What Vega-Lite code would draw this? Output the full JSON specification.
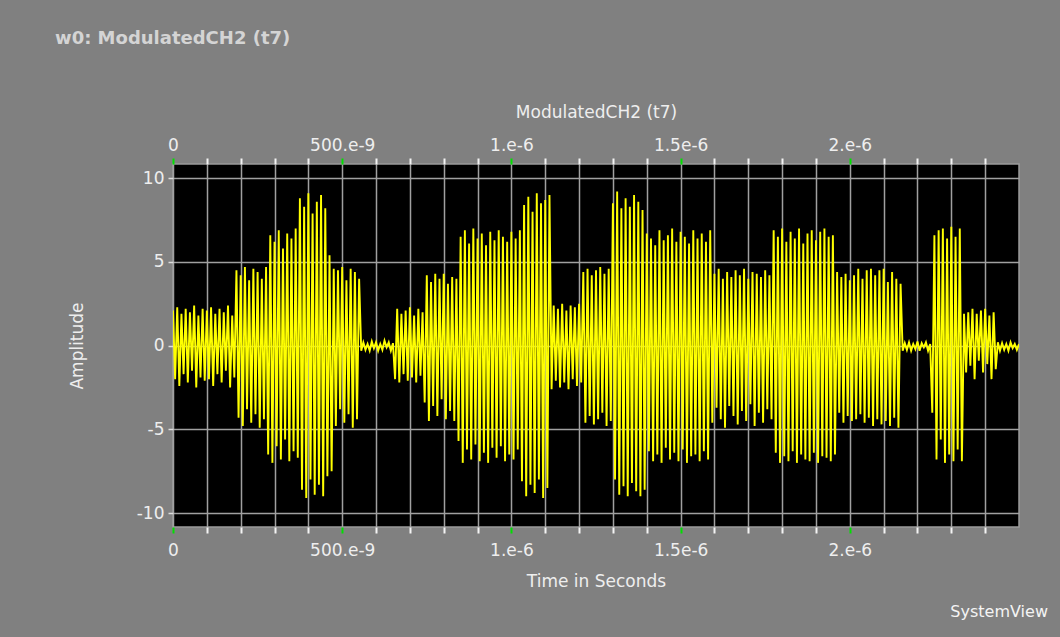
{
"$schema": "https://vega.github.io/schema/vega-lite/v6.json",
"width": 846, "height": 363,
"autosize": {"type": "none"},
"padding": {"left": 173, "top": 164, "right": 41, "bottom": 110},
"background": "#808080",
"title": {"text": "w0: ModulatedCH2 (t7)", "anchor": "start", "frame": "group", "dx": -118, "offset": 55, "font": "DejaVu Sans", "fontSize": 18, "fontWeight": "bold", "color": "#d4d4d4"},
"config": {
  "view": {"fill": "#000000", "stroke": "#9a9a9a", "strokeWidth": 1.5},
  "axis": {"labelFont": "DejaVu Sans", "labelFontSize": 17, "labelColor": "#eeeeee", "titleFont": "DejaVu Sans", "titleFontSize": 17, "titleFontWeight": "normal", "titleColor": "#eeeeee", "domain": false}
},
"data": {"values": [
{"t":0,"v":2.1},{"t":6.25,"v":-2.0},{"t":12.5,"v":2.3},{"t":18.75,"v":-2.4},{"t":25,"v":1.9},{"t":31.25,"v":-1.7},{"t":37.5,"v":2.2},{"t":43.75,"v":-2.2},
{"t":50,"v":2.0},{"t":56.25,"v":-1.5},{"t":62.5,"v":2.4},{"t":68.75,"v":-2.5},{"t":75,"v":1.8},{"t":81.25,"v":-1.9},{"t":87.5,"v":2.2},{"t":93.75,"v":-2.1},
{"t":100,"v":2.1},{"t":106.25,"v":-2.0},{"t":112.5,"v":2.3},{"t":118.75,"v":-2.4},{"t":125,"v":1.9},{"t":131.25,"v":-1.7},{"t":137.5,"v":2.2},{"t":143.75,"v":-2.2},
{"t":150,"v":2.0},{"t":156.25,"v":-1.5},{"t":162.5,"v":2.4},{"t":168.75,"v":-2.5},{"t":175,"v":1.8},{"t":181.25,"v":-1.9},
{"t":187.5,"v":4.5},{"t":193.75,"v":-4.3},{"t":200,"v":4.2},{"t":206.25,"v":-4.8},{"t":212.5,"v":4.7},{"t":218.75,"v":-3.8},{"t":225,"v":3.9},{"t":231.25,"v":-4.6},
{"t":237.5,"v":4.6},{"t":243.75,"v":-4.1},{"t":250,"v":4.4},{"t":256.25,"v":-4.9},{"t":262.5,"v":4.0},{"t":268.75,"v":-4.4},{"t":275,"v":4.7},
{"t":281.25,"v":-6.5},{"t":287.5,"v":6.6},{"t":293.75,"v":-7.0},{"t":300,"v":6.2},{"t":306.25,"v":-6.0},{"t":312.5,"v":6.9},{"t":318.75,"v":-6.8},{"t":325,"v":5.8},
{"t":331.25,"v":-5.6},{"t":337.5,"v":6.7},{"t":343.75,"v":-6.9},{"t":350,"v":6.4},{"t":356.25,"v":-6.3},{"t":362.5,"v":7.0},{"t":368.75,"v":-6.7},
{"t":375,"v":8.8},{"t":381.25,"v":-8.6},{"t":387.5,"v":8.3},{"t":393.75,"v":-9.1},{"t":400,"v":9.1},{"t":406.25,"v":-8.0},{"t":412.5,"v":7.9},{"t":418.75,"v":-8.9},
{"t":425,"v":8.6},{"t":431.25,"v":-8.3},{"t":437.5,"v":9.0},{"t":443.75,"v":-9.0},{"t":450,"v":8.2},{"t":456.25,"v":-7.8},
{"t":462.5,"v":5.4},{"t":468.75,"v":-7.5},{"t":475,"v":4.6},{"t":481.25,"v":-4.8},{"t":487.5,"v":4.5},{"t":493.75,"v":-3.8},{"t":500,"v":4.7},{"t":506.25,"v":-4.6},
{"t":512.5,"v":3.9},{"t":518.75,"v":-4.1},{"t":525,"v":4.6},{"t":531.25,"v":-4.9},{"t":537.5,"v":4.4},{"t":543.75,"v":-4.4},{"t":550,"v":4.0},
{"t":556.25,"v":-0.3},{"t":562.5,"v":0.2},{"t":568.75,"v":-0.25},{"t":575,"v":0.1},{"t":581.25,"v":-0.3},{"t":587.5,"v":0.25},{"t":593.75,"v":-0.15},{"t":600,"v":0.2},
{"t":606.25,"v":-0.3},{"t":612.5,"v":0.1},{"t":618.75,"v":-0.25},{"t":625,"v":0.3},{"t":631.25,"v":-0.1},{"t":637.5,"v":0.2},{"t":643.75,"v":-0.3},{"t":650,"v":0.15},
{"t":656.25,"v":-2.0},{"t":662.5,"v":2.2},{"t":668.75,"v":-2.2},{"t":675,"v":1.9},{"t":681.25,"v":-1.7},{"t":687.5,"v":2.1},{"t":693.75,"v":-2.1},{"t":700,"v":2.3},
{"t":706.25,"v":-1.9},{"t":712.5,"v":1.8},{"t":718.75,"v":-2.2},{"t":725,"v":2.2},{"t":731.25,"v":-1.8},{"t":737.5,"v":2.0},
{"t":743.75,"v":-3.4},{"t":750,"v":4.2},{"t":756.25,"v":-4.5},{"t":762.5,"v":3.8},{"t":768.75,"v":-3.6},{"t":775,"v":4.3},{"t":781.25,"v":-4.2},{"t":787.5,"v":4.0},
{"t":793.75,"v":-3.2},{"t":800,"v":4.3},{"t":806.25,"v":-4.4},{"t":812.5,"v":3.7},{"t":818.75,"v":-3.9},{"t":825,"v":4.1},{"t":831.25,"v":-4.5},{"t":837.5,"v":4.0},
{"t":843.75,"v":-5.7},{"t":850,"v":6.5},{"t":856.25,"v":-7.0},{"t":862.5,"v":6.9},{"t":868.75,"v":-6.2},{"t":875,"v":6.1},{"t":881.25,"v":-6.8},{"t":887.5,"v":7.0},
{"t":893.75,"v":-5.9},{"t":900,"v":6.4},{"t":906.25,"v":-6.9},{"t":912.5,"v":6.7},{"t":918.75,"v":-6.4},{"t":925,"v":6.0},{"t":931.25,"v":-7.0},{"t":937.5,"v":6.8},
{"t":943.75,"v":-6.1},{"t":950,"v":6.3},{"t":956.25,"v":-6.7},{"t":962.5,"v":6.9},{"t":968.75,"v":-6.0},{"t":975,"v":6.5},{"t":981.25,"v":-6.9},{"t":987.5,"v":6.2},
{"t":993.75,"v":-6.5},{"t":1000,"v":6.8},{"t":1006.25,"v":-6.8},{"t":1012.5,"v":6.4},{"t":1018.75,"v":-6.2},{"t":1025,"v":6.9},
{"t":1031.25,"v":-8.1},{"t":1037.5,"v":8.4},{"t":1043.75,"v":-9.0},{"t":1050,"v":8.9},{"t":1056.25,"v":-8.3},{"t":1062.5,"v":8.0},{"t":1068.75,"v":-8.8},{"t":1075,"v":9.1},
{"t":1081.25,"v":-8.0},{"t":1087.5,"v":8.5},{"t":1093.75,"v":-9.1},{"t":1100,"v":8.7},{"t":1106.25,"v":-8.5},{"t":1112.5,"v":9.0},
{"t":1118.75,"v":-2.6},{"t":1125,"v":2.4},{"t":1131.25,"v":-2.1},{"t":1137.5,"v":2.2},{"t":1143.75,"v":-2.5},{"t":1150,"v":2.5},{"t":1156.25,"v":-2.2},{"t":1162.5,"v":2.1},
{"t":1168.75,"v":-2.6},{"t":1175,"v":2.4},{"t":1181.25,"v":-2.0},{"t":1187.5,"v":2.3},{"t":1193.75,"v":-2.4},{"t":1200,"v":2.5},{"t":1206.25,"v":-2.2},
{"t":1212.5,"v":4.4},{"t":1218.75,"v":-4.6},{"t":1225,"v":4.6},{"t":1231.25,"v":-4.2},{"t":1237.5,"v":4.2},{"t":1243.75,"v":-4.7},{"t":1250,"v":4.5},{"t":1256.25,"v":-4.4},
{"t":1262.5,"v":4.7},{"t":1268.75,"v":-4.0},{"t":1275,"v":4.3},{"t":1281.25,"v":-4.8},{"t":1287.5,"v":4.6},{"t":1293.75,"v":-4.5},
{"t":1300,"v":8.5},{"t":1306.25,"v":-8.0},{"t":1312.5,"v":9.2},{"t":1318.75,"v":-8.9},{"t":1325,"v":8.2},{"t":1331.25,"v":-8.4},{"t":1337.5,"v":8.8},{"t":1343.75,"v":-9.0},
{"t":1350,"v":8.3},{"t":1356.25,"v":-8.2},{"t":1362.5,"v":9.0},{"t":1368.75,"v":-8.7},{"t":1375,"v":8.6},{"t":1381.25,"v":-9.0},{"t":1387.5,"v":8.1},{"t":1393.75,"v":-8.6},
{"t":1400,"v":6.7},{"t":1406.25,"v":-6.3},{"t":1412.5,"v":6.4},{"t":1418.75,"v":-6.9},{"t":1425,"v":6.0},{"t":1431.25,"v":-6.5},{"t":1437.5,"v":6.9},{"t":1443.75,"v":-7.0},
{"t":1450,"v":6.3},{"t":1456.25,"v":-6.1},{"t":1462.5,"v":6.6},{"t":1468.75,"v":-6.8},{"t":1475,"v":7.0},{"t":1481.25,"v":-6.4},{"t":1487.5,"v":6.2},{"t":1493.75,"v":-6.9},
{"t":1500,"v":6.8},{"t":1506.25,"v":-6.2},{"t":1512.5,"v":6.5},{"t":1518.75,"v":-7.0},{"t":1525,"v":6.1},{"t":1531.25,"v":-6.6},{"t":1537.5,"v":6.9},{"t":1543.75,"v":-6.5},
{"t":1550,"v":6.4},{"t":1556.25,"v":-6.9},{"t":1562.5,"v":6.7},{"t":1568.75,"v":-6.3},{"t":1575,"v":6.2},{"t":1581.25,"v":-6.8},{"t":1587.5,"v":6.9},
{"t":1593.75,"v":-4.6},{"t":1600,"v":4.3},{"t":1606.25,"v":-3.7},{"t":1612.5,"v":4.6},{"t":1618.75,"v":-4.4},{"t":1625,"v":4.0},{"t":1631.25,"v":-4.9},{"t":1637.5,"v":4.4},
{"t":1643.75,"v":-3.6},{"t":1650,"v":4.1},{"t":1656.25,"v":-4.2},{"t":1662.5,"v":4.5},{"t":1668.75,"v":-4.7},{"t":1675,"v":4.2},{"t":1681.25,"v":-3.9},{"t":1687.5,"v":4.6},
{"t":1693.75,"v":-4.5},{"t":1700,"v":4.0},{"t":1706.25,"v":-3.5},{"t":1712.5,"v":4.4},{"t":1718.75,"v":-4.8},{"t":1725,"v":4.3},{"t":1731.25,"v":-4.0},{"t":1737.5,"v":4.1},
{"t":1743.75,"v":-4.6},{"t":1750,"v":4.5},{"t":1756.25,"v":-3.8},{"t":1762.5,"v":4.2},{"t":1768.75,"v":-4.4},
{"t":1775,"v":6.9},{"t":1781.25,"v":-6.4},{"t":1787.5,"v":6.5},{"t":1793.75,"v":-7.0},{"t":1800,"v":7.0},{"t":1806.25,"v":-6.6},{"t":1812.5,"v":6.2},{"t":1818.75,"v":-6.9},
{"t":1825,"v":6.8},{"t":1831.25,"v":-6.3},{"t":1837.5,"v":6.4},{"t":1843.75,"v":-7.0},{"t":1850,"v":7.0},{"t":1856.25,"v":-6.5},{"t":1862.5,"v":6.1},{"t":1868.75,"v":-6.8},
{"t":1875,"v":6.7},{"t":1881.25,"v":-6.9},{"t":1887.5,"v":6.9},{"t":1893.75,"v":-6.4},{"t":1900,"v":6.3},{"t":1906.25,"v":-7.0},{"t":1912.5,"v":6.8},{"t":1918.75,"v":-6.6},
{"t":1925,"v":7.0},{"t":1931.25,"v":-6.7},{"t":1937.5,"v":6.5},{"t":1943.75,"v":-6.9},{"t":1950,"v":6.6},{"t":1956.25,"v":-6.5},
{"t":1962.5,"v":4.4},{"t":1968.75,"v":-4.0},{"t":1975,"v":4.1},{"t":1981.25,"v":-4.6},{"t":1987.5,"v":4.3},{"t":1993.75,"v":-4.2},{"t":2000,"v":3.9},{"t":2006.25,"v":-4.5},
{"t":2012.5,"v":4.2},{"t":2018.75,"v":-4.4},{"t":2025,"v":4.6},{"t":2031.25,"v":-4.1},{"t":2037.5,"v":4.0},{"t":2043.75,"v":-4.6},{"t":2050,"v":4.5},{"t":2056.25,"v":-4.3},
{"t":2062.5,"v":4.6},{"t":2068.75,"v":-4.8},{"t":2075,"v":4.2},{"t":2081.25,"v":-4.4},{"t":2087.5,"v":4.5},{"t":2093.75,"v":-4.7},{"t":2100,"v":4.6},{"t":2106.25,"v":-4.5},
{"t":2112.5,"v":3.8},{"t":2118.75,"v":-4.8},{"t":2125,"v":4.4},{"t":2131.25,"v":-4.3},{"t":2137.5,"v":4.0},{"t":2143.75,"v":-4.9},{"t":2150,"v":3.7},
{"t":2156.25,"v":-0.3},{"t":2162.5,"v":0.15},{"t":2168.75,"v":-0.25},{"t":2175,"v":0.2},{"t":2181.25,"v":-0.3},{"t":2187.5,"v":0.1},{"t":2193.75,"v":-0.2},{"t":2200,"v":0.25},
{"t":2206.25,"v":-0.3},{"t":2212.5,"v":0.15},{"t":2218.75,"v":-0.1},{"t":2225,"v":0.2},{"t":2231.25,"v":-0.3},{"t":2237.5,"v":0.1},
{"t":2243.75,"v":-4.0},{"t":2250,"v":6.6},{"t":2256.25,"v":-6.8},{"t":2262.5,"v":6.9},{"t":2268.75,"v":-5.6},{"t":2275,"v":7.0},{"t":2281.25,"v":-7.0},{"t":2287.5,"v":6.4},
{"t":2293.75,"v":-6.5},{"t":2300,"v":7.1},{"t":2306.25,"v":-6.9},{"t":2312.5,"v":6.5},{"t":2318.75,"v":-6.2},{"t":2325,"v":7.0},{"t":2331.25,"v":-6.9},
{"t":2337.5,"v":1.9},{"t":2343.75,"v":-1.6},{"t":2350,"v":2.0},{"t":2356.25,"v":-1.2},{"t":2362.5,"v":2.2},{"t":2368.75,"v":-2.0},{"t":2375,"v":1.9},{"t":2381.25,"v":-0.9},
{"t":2387.5,"v":2.1},{"t":2393.75,"v":-1.6},{"t":2400,"v":2.2},{"t":2406.25,"v":-1.1},{"t":2412.5,"v":1.8},{"t":2418.75,"v":-2.0},{"t":2425,"v":2.0},{"t":2431.25,"v":-1.4},
{"t":2437.5,"v":0.2},{"t":2443.75,"v":-0.3},{"t":2450,"v":0.15},{"t":2456.25,"v":-0.25},{"t":2462.5,"v":0.1},{"t":2468.75,"v":-0.3},{"t":2475,"v":0.2},{"t":2481.25,"v":-0.15},
{"t":2487.5,"v":0.1},{"t":2493.75,"v":-0.25},{"t":2500,"v":0.1}
]},
"resolve": {"axis": {"x": "independent"}},
"layer": [
  {
    "mark": {"type": "line", "color": "#ffff00", "strokeWidth": 1.9, "clip": true},
    "encoding": {
      "x": {"field": "t", "type": "quantitative",
        "scale": {"domain": [0, 2500], "nice": false, "zero": false},
        "axis": {"orient": "bottom", "values": [0,100,200,300,400,500,600,700,800,900,1000,1100,1200,1300,1400,1500,1600,1700,1800,1900,2000,2100,2200,2300,2400],
          "grid": true, "gridColor": "#a0a0a0", "gridWidth": 1.5,
          "tickSize": 6, "tickWidth": 2, "tickColor": {"condition": {"test": "datum.value % 500 === 0", "value": "#00e000"}, "value": "#f4f4f4"},
          "labelExpr": "datum.value === 0 ? '0' : datum.value === 500 ? '500.e-9' : datum.value === 1000 ? '1.e-6' : datum.value === 1500 ? '1.5e-6' : datum.value === 2000 ? '2.e-6' : ''",
          "labelFlush": false, "labelOverlap": false, "labelPadding": 9,
          "title": "Time in Seconds", "titlePadding": 15}},
      "y": {"field": "v", "type": "quantitative",
        "scale": {"domain": [-10.83, 10.85], "nice": false, "zero": false},
        "axis": {"orient": "left", "values": [-10, -5, 0, 5, 10], "grid": true, "gridColor": "#a0a0a0", "gridWidth": 1.5,
          "tickSize": 5, "tickWidth": 1.5, "tickColor": "#dddddd", "labelPadding": 4,
          "labelExpr": "'' + datum.value", "title": "Amplitude", "titlePadding": 50}}
    }
  },
  {
    "mark": {"type": "line", "strokeOpacity": 0},
    "encoding": {
      "x": {"field": "t", "type": "quantitative",
        "scale": {"domain": [0, 2500], "nice": false, "zero": false},
        "axis": {"orient": "top", "values": [0,100,200,300,400,500,600,700,800,900,1000,1100,1200,1300,1400,1500,1600,1700,1800,1900,2000,2100,2200,2300,2400],
          "grid": false,
          "tickSize": 6, "tickWidth": 2, "tickColor": {"condition": {"test": "datum.value % 500 === 0", "value": "#00e000"}, "value": "#f4f4f4"},
          "labelExpr": "datum.value === 0 ? '0' : datum.value === 500 ? '500.e-9' : datum.value === 1000 ? '1.e-6' : datum.value === 1500 ? '1.5e-6' : datum.value === 2000 ? '2.e-6' : ''",
          "labelFlush": false, "labelOverlap": false, "labelPadding": 4,
          "title": "ModulatedCH2 (t7)", "titlePadding": 15}},
      "y": {"field": "v", "type": "quantitative", "scale": {"domain": [-10.83, 10.85], "nice": false, "zero": false}}
    }
  },
  {
    "data": {"values": [{"label": "SystemView"}]},
    "mark": {"type": "text", "align": "right", "baseline": "middle", "dx": 29, "dy": 85, "font": "DejaVu Sans", "fontSize": 16, "color": "#f4f4f4"},
    "encoding": {
      "x": {"datum": 2500, "type": "quantitative", "scale": {"domain": [0, 2500], "nice": false, "zero": false}, "axis": null},
      "y": {"datum": -10.83, "type": "quantitative", "scale": {"domain": [-10.83, 10.85], "nice": false, "zero": false}},
      "text": {"field": "label"}
    }
  }
]
}
